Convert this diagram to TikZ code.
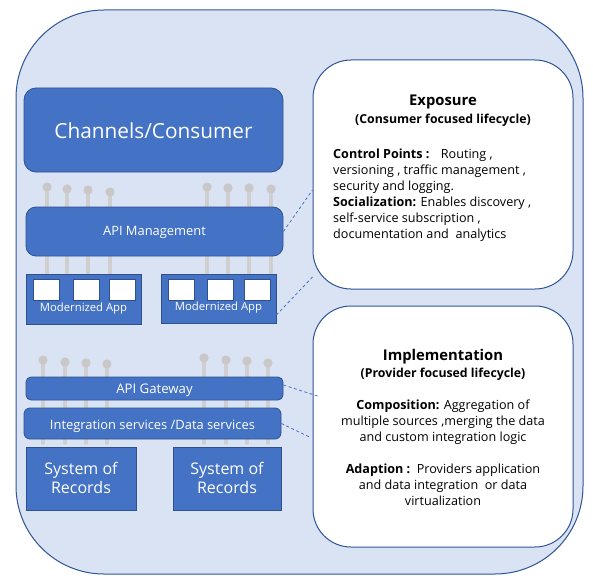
\documentclass[tikz,border=0pt]{standalone}
\usepackage{fontspec}
\setmainfont{Open Sans}
\definecolor{bgcol}{HTML}{DAE3F3}
\definecolor{frameline}{HTML}{2F5597}
\definecolor{boxblue}{HTML}{4472C4}
\definecolor{boxedge}{HTML}{2F528F}
\definecolor{linkblue}{HTML}{4472C4}
\definecolor{pinstemcol}{HTML}{D0CECE}
\definecolor{pinheadcol}{HTML}{C9C7C7}
\begin{document}
\begin{tikzpicture}[x=1pt,y=-1pt,
  outerframe/.style={draw=frameline, fill=bgcol, line width=1pt, rounded corners=88pt, inner sep=0pt, minimum width=567pt, minimum height=564pt},
  bluebox/.style={draw=boxedge, fill=boxblue, line width=0.8pt, inner sep=0pt},
  appslot/.style={draw=boxedge, fill=white, line width=0.8pt, inner sep=0pt, minimum width=26pt, minimum height=21pt},
  whitebox/.style={draw=frameline, fill=white, line width=1pt, rounded corners=38pt, inner sep=0pt},
  wtext/.style={text=white, inner sep=0pt, anchor=base},
  btext/.style={text=black, inner sep=0pt, anchor=base},
  dashlink/.style={draw=linkblue, dash pattern=on 3pt off 2.5pt, line width=0.8pt},
  pinstem/.style={draw=pinstemcol, line width=3.5pt, line cap=round},
  pinhd/.style={fill=pinheadcol}
]
\useasboundingbox (0,0) rectangle (593,583);
% frame
\node[outerframe] (frame) at (299.5,292) {};
% pins (behind boxes)
\foreach \x/\y in {47/187,67/189,88/190,110/192,207/187,228/188,249/188,271/189}{
  \draw[pinstem] (\x,\y) -- (\x,273);
  \fill[pinhd] (\x,\y) circle (4.6pt);
}
\foreach \x/\y in {43/360,65/362,86/363,107/364,204/358,226/360,247/361,268/363}{
  \draw[pinstem] (\x,\y) -- (\x,443);
  \fill[pinhd] (\x,\y) circle (4.6pt);
}
% left column boxes
\node[bluebox, rounded corners=12pt, minimum width=259pt, minimum height=84pt] (chan) at (153.5,130) {};
\node[wtext, font=\fontsize{20.8}{24}\selectfont] (chantxt) at (153.5,138) {Channels/Consumer};
\node[bluebox, rounded corners=10pt, minimum width=257pt, minimum height=49pt] (apim) at (154.5,231.5) {};
\node[wtext, font=\fontsize{12.9}{15}\selectfont] (apimtxt) at (154.5,235) {API Management};
\node[bluebox, minimum width=115pt, minimum height=50pt] (mod1) at (83.5,299) {};
\node[appslot] (s11) at (46,289.5) {};
\node[appslot] (s12) at (86,289.5) {};
\node[appslot] (s13) at (122,289.5) {};
\node[wtext, font=\fontsize{11.3}{13}\selectfont] (mod1txt) at (83.5,311) {Modernized App};
\node[bluebox, minimum width=115pt, minimum height=49pt] (mod2) at (218.5,298.5) {};
\node[appslot] (s21) at (181,289.5) {};
\node[appslot] (s22) at (220,289.5) {};
\node[appslot] (s23) at (257,289.5) {};
\node[wtext, font=\fontsize{11.3}{13}\selectfont] (mod2txt) at (218.5,310.5) {Modernized App};
\node[bluebox, rounded corners=5pt, minimum width=257pt, minimum height=23pt] (gw) at (154.5,388.5) {};
\node[wtext, font=\fontsize{13.2}{15}\selectfont] (gwtxt) at (154.5,393) {API Gateway};
\node[bluebox, rounded corners=6pt, minimum width=257pt, minimum height=31pt] (integ) at (152.5,423.5) {};
\node[wtext, font=\fontsize{12.9}{15}\selectfont] (integtxt) at (152.5,429) {Integration services /Data services};
\node[bluebox, minimum width=110pt, minimum height=63pt] (sor1) at (81,478.5) {};
\node[wtext, align=center, font=\fontsize{16}{19}\selectfont] (sor1txt) at (81,493) {System of\\Records};
\node[bluebox, minimum width=108pt, minimum height=63pt] (sor2) at (227,478.5) {};
\node[wtext, align=center, font=\fontsize{16}{19}\selectfont] (sor2txt) at (227,493) {System of\\Records};
% right column boxes
\node[whitebox, minimum width=260pt, minimum height=229pt] (expo) at (443,174.5) {};
\node[btext, font=\bfseries\fontsize{14.8}{17}\selectfont] (expotitle) at (443,106) {Exposure};
\node[btext, font=\bfseries\fontsize{12.3}{14}\selectfont] (exposub) at (443,123) {(Consumer focused lifecycle)};
\node[btext, anchor=base west, align=left, font=\fontsize{12.6}{16}\selectfont] (expobody) at (333,238)
  {\textbf{Control Points :}\hspace{0.9em}Routing ,\\versioning , traffic management ,\\security and logging.\\\textbf{Socialization:} Enables discovery ,\\self-service subscription ,\\documentation and\ \ analytics};
\node[whitebox, minimum width=260pt, minimum height=241pt] (impl) at (443,426.5) {};
\node[btext, font=\bfseries\fontsize{14.8}{17}\selectfont] (impltitle) at (443,360) {Implementation};
\node[btext, font=\bfseries\fontsize{12.3}{14}\selectfont] (implsub) at (443,377) {(Provider focused lifecycle)};
\node[btext, align=center, font=\fontsize{12.6}{16}\selectfont] (implcomp) at (443,441)
  {\textbf{Composition:} Aggregation of\\multiple sources ,merging the data\\and custom integration logic};
\node[btext, align=center, font=\fontsize{12.6}{16}\selectfont] (impladapt) at (443,505)
  {\textbf{Adaption :}\ \ Providers application\\and data integration\ \ or data\\virtualization};
% dashed links
\draw[dashlink] (apim.east) -- ([yshift=-15.5pt]expo.west);
\draw[dashlink] ([yshift=-16.5pt]mod2.east) -- ([yshift=-102.5pt]expo.west);
\draw[dashlink] ([yshift=3.5pt]gw.east) -- ([xshift=5pt,yshift=30.5pt]impl.west);
\draw[dashlink] (integ.east) -- ([xshift=-3pt,yshift=-10.5pt]impl.west);
\end{tikzpicture}
\end{document}
